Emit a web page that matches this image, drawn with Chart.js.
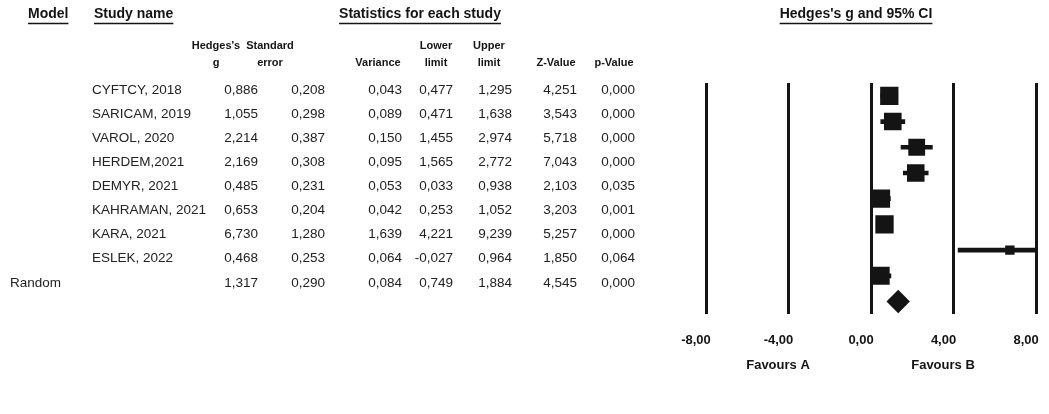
<!DOCTYPE html>
<html>
<head>
<meta charset="utf-8">
<script src="https://cdn.jsdelivr.net/npm/chart.js@4.4.0/dist/chart.umd.min.js"></script>
<style>
  html, body { margin: 0; padding: 0; background: #fff; }
  #wrap { position: relative; width: 1049px; height: 414px; }
</style>
</head>
<body>
<div id="wrap"><canvas id="forest"></canvas></div>
<script>
// Rows of the table: eight studies, then the pooled random-effects line
const rowLabels = ['CYFTCY, 2018', 'SARICAM, 2019', 'VAROL, 2020', 'HERDEM,2021', 'DEMYR, 2021',
                   'KAHRAMAN, 2021', 'KARA, 2021', 'ESLEK, 2022', 'Random'];
const hedgesG    = [0.886, 1.055, 2.214, 2.169, 0.485, 0.653, 6.730, 0.468, 1.317];
const stdErr     = [0.208, 0.298, 0.387, 0.308, 0.231, 0.204, 1.280, 0.253, 0.290];
const variance   = [0.043, 0.089, 0.150, 0.095, 0.053, 0.042, 1.639, 0.064, 0.084];
const lowerLimit = [0.477, 0.471, 1.455, 1.565, 0.033, 0.253, 4.221, -0.027, 0.749];
const upperLimit = [1.295, 1.638, 2.974, 2.772, 0.938, 1.052, 9.239, 0.964, 1.884];
const zValue     = [4.251, 3.543, 5.718, 7.043, 2.103, 3.203, 5.257, 1.850, 4.545];
const pValue     = [0.000, 0.000, 0.000, 0.000, 0.035, 0.001, 0.000, 0.064, 0.000];
const xTicks     = [-8, -4, 0, 4, 8];

const pooledIndex = rowLabels.length - 1;
const tau2 = 0.53; // between-study variance, used for the random-effects weights

const FONT = '"Liberation Sans", Arial, sans-serif';
const INK = '#141414';

const fmt = v => v.toFixed(3).replace('.', ',');

// square area follows the study weight, diamond spans the pooled CI
function markerRadius(ctx) {
  const i = ctx.dataIndex;
  const x = ctx.chart.scales.x;
  if (i === pooledIndex) {
    return (x.getPixelForValue(upperLimit[i]) - x.getPixelForValue(lowerLimit[i])) / 2;
  }
  const w = 1 / (variance[i] + tau2);
  return 9.8 * Math.sqrt(w);
}

// the statistics table on the left and the header/footer captions
const tableText = {
  id: 'tableText',
  afterDraw(chart) {
    const ctx = chart.ctx;
    ctx.save();
    ctx.fillStyle = INK;
    ctx.strokeStyle = INK;
    ctx.textBaseline = 'middle';

    // underlined titles
    ctx.font = 'bold 14px ' + FONT;
    const titles = [
      ['Model', 28, 'left'],
      ['Study name', 94, 'left'],
      ['Statistics for each study', 420, 'center'],
      ["Hedges's g and 95% CI", 856, 'center']
    ];
    ctx.lineWidth = 1.5;
    titles.forEach(([t, x, align]) => {
      ctx.textAlign = align;
      ctx.fillText(t, x, 14);
      const w = ctx.measureText(t).width;
      const x0 = align === 'center' ? x - w / 2 : x;
      ctx.beginPath();
      ctx.moveTo(x0, 23.5);
      ctx.lineTo(x0 + w, 23.5);
      ctx.stroke();
    });

    // column headers
    ctx.font = 'bold 11px ' + FONT;
    ctx.textAlign = 'center';
    const heads = [
      ["Hedges's", 'g', 216],
      ['Standard', 'error', 270],
      ['', 'Variance', 378],
      ['Lower', 'limit', 436],
      ['Upper', 'limit', 489],
      ['', 'Z-Value', 556],
      ['', 'p-Value', 614]
    ];
    heads.forEach(([a, b, x]) => {
      if (a) ctx.fillText(a, x, 46);
      ctx.fillText(b, x, 63);
    });

    // body rows
    ctx.font = '13.5px ' + FONT;
    ctx.fillStyle = '#222';
    const cols = [hedgesG, stdErr, variance, lowerLimit, upperLimit, zValue, pValue];
    const right = [258, 325, 402, 453, 512, 577, 635];
    rowLabels.forEach((name, i) => {
      const y = 90 + i * 24.1;
      ctx.textAlign = 'left';
      ctx.fillText(name, i === pooledIndex ? 10 : 92, y);
      ctx.textAlign = 'right';
      cols.forEach((col, c) => ctx.fillText(fmt(col[i]), right[c], y));
    });

    // favours captions under the axis
    ctx.fillStyle = INK;
    ctx.font = 'bold 13px ' + FONT;
    ctx.textAlign = 'center';
    ctx.fillText('Favours A', 778, 365);
    ctx.fillText('Favours B', 943, 365);
    ctx.restore();
  }
};

new Chart(document.getElementById('forest'), {
  type: 'bar',
  data: {
    labels: rowLabels,
    datasets: [
      {
        type: 'line',
        label: "Hedges's g",
        data: rowLabels.map((r, i) => ({ x: hedgesG[i], y: r })),
        showLine: false,
        pointStyle: rowLabels.map((r, i) => i === pooledIndex ? 'rectRot' : 'rect'),
        pointRadius: markerRadius,
        pointBackgroundColor: INK,
        pointBorderColor: INK,
        pointBorderWidth: 0,
        order: 0
      },
      {
        label: '95% CI',
        data: rowLabels.map((r, i) => i === pooledIndex ? null : [lowerLimit[i], upperLimit[i]]),
        backgroundColor: INK,
        barThickness: 4,
        order: 1
      }
    ]
  },
  options: {
    indexAxis: 'y',
    responsive: true,
    maintainAspectRatio: false,
    animation: false,
    events: [],
    layout: { padding: { left: 706, right: 10, top: 83, bottom: 48 } },
    plugins: { legend: { display: false }, tooltip: { enabled: false } },
    scales: {
      x: {
        type: 'linear',
        min: -8,
        max: 8,
        afterBuildTicks: s => { s.ticks = xTicks.map(v => ({ value: v })); },
        afterFit: s => { s.paddingLeft = 0; s.paddingRight = 0; },
        grid: { color: INK, lineWidth: 3, drawTicks: false },
        border: { display: false },
        ticks: {
          padding: 18,
          labelOffset: -10,
          color: INK,
          font: { family: FONT, size: 13, weight: 'bold' },
          callback: v => v.toFixed(2).replace('.', ',')
        }
      },
      y: { display: false }
    }
  },
  plugins: [tableText]
});
</script>
</body>
</html>
